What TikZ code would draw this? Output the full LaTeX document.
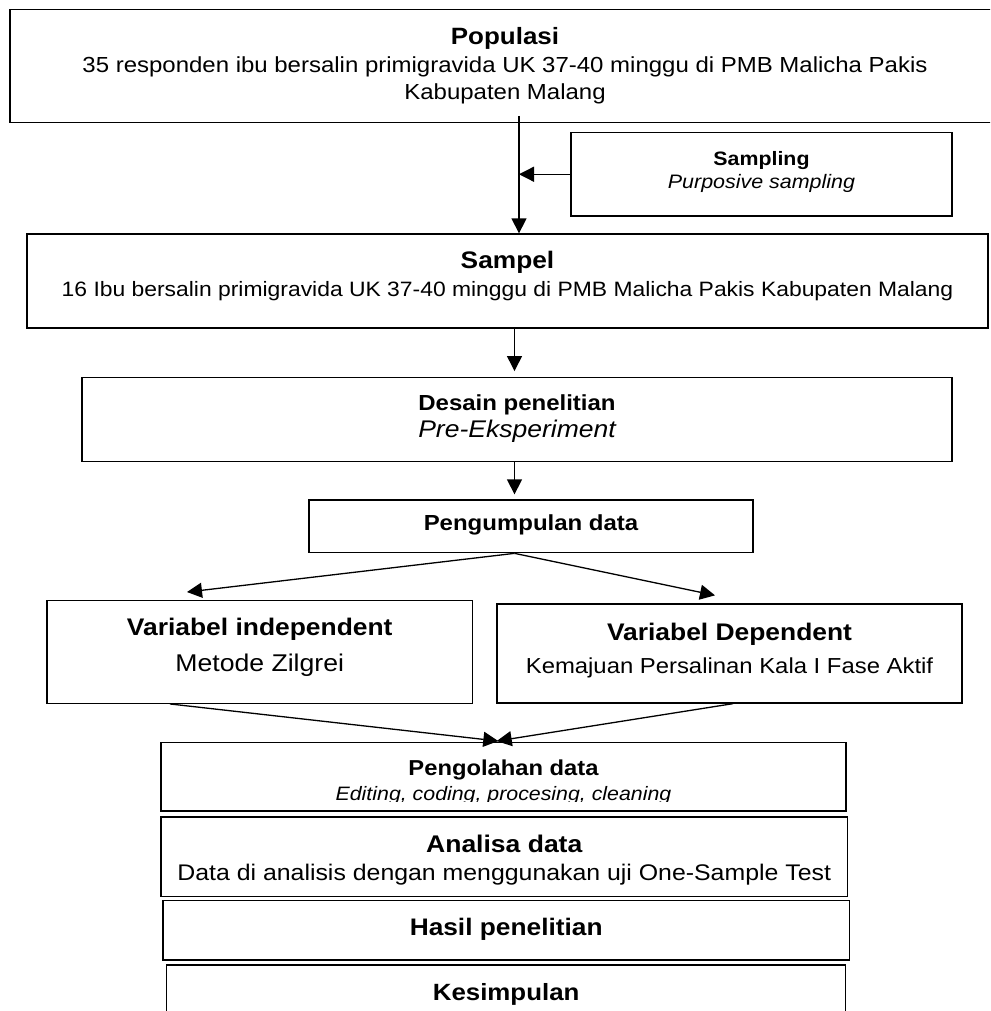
\documentclass[tikz,border=0pt]{standalone}
\usepackage{fontspec}
\setmainfont{Liberation Sans}[FakeStretch=1.1]
\usetikzlibrary{arrows.meta,calc}
\tikzset{
  box/.style={draw, line width=1.3pt, rectangle, inner sep=0pt},
  txt/.style={anchor=base, inner sep=0pt},
  arr/.style={line width=1.3pt, -{Triangle[length=15pt,width=15pt]}},
}
\newcommand{\fsz}[1]{\fontsize{#1}{#1}\selectfont}
\begin{document}
\begin{tikzpicture}[x=1pt,y=-1pt]
\useasboundingbox (0,0) rectangle (990,1011);
\clip (0,0) rectangle (990,1011);

% Populasi
\node[box, minimum width=990pt, minimum height=113.4pt] (pop) at (505,66) {};
\node[txt, font={\fsz{23.6}\bfseries}] (popT) at (505,44.5) {Populasi};
\node[txt, font={\fsz{21.8}}] (popA) at (505,72.7) {35 responden ibu bersalin primigravida UK 37-40 minggu di PMB Malicha Pakis};
\node[txt, font={\fsz{21.8}}] (popB) at (505,100) {Kabupaten Malang};

% Sampling
\node[box, minimum width=381pt, minimum height=83.5pt] (samp) at (761.5,174.25) {};
\node[txt, font={\fsz{19.4}\bfseries}] (sampT) at (761.5,165.7) {Sampling};
\node[txt, font={\fsz{19.5}\itshape}] (sampA) at (761.5,188.3) {Purposive sampling};

% Sampel
\node[box, minimum width=961pt, minimum height=94pt] (sampel) at (507.5,281) {};
\node[txt, font={\fsz{23.9}\bfseries}] (sampelT) at (507.5,268.5) {Sampel};
\node[txt, font={\fsz{20.8}}] (sampelA) at (507.5,296) {16 Ibu bersalin primigravida UK 37-40 minggu di PMB Malicha Pakis Kabupaten Malang};

% Desain
\node[box, minimum width=870pt, minimum height=84.4pt] (desain) at (517,419.5) {};
\node[txt, font={\fsz{21.8}\bfseries}] (desainT) at (517,410) {Desain penelitian};
\node[txt, font={\fsz{24.1}\itshape}] (desainA) at (517,437.5) {Pre-Eksperiment};

% Pengumpulan
\node[box, minimum width=444pt, minimum height=52.7pt] (peng) at (531,526.35) {};
\node[txt, font={\fsz{21.8}\bfseries}] (pengT) at (531,530) {Pengumpulan data};

% Variabel independent
\node[box, minimum width=425.5pt, minimum height=102.6pt] (vi) at (259.75,652) {};
\node[txt, font={\fsz{24}\bfseries}] (viT) at (259.75,635.7) {Variabel independent};
\node[txt, font={\fsz{24.2}}] (viA) at (259.75,671.5) {Metode Zilgrei};

% Variabel Dependent
\node[box, minimum width=465pt, minimum height=99pt] (vd) at (729.5,653.5) {};
\node[txt, font={\fsz{24}\bfseries}] (vdT) at (729.5,640) {Variabel Dependent};
\node[txt, font={\fsz{21.7}}] (vdA) at (729.5,673.3) {Kemajuan Persalinan Kala I Fase Aktif};

% Pengolahan
\node[box, minimum width=685pt, minimum height=68.3pt] (olah) at (503.5,776.85) {};
\node[txt, font={\fsz{21.6}\bfseries}] (olahT) at (503.5,775) {Pengolahan data};
\begin{scope}
  \clip (161,743) rectangle (846,801);
  \node[txt, font={\fsz{19.4}\itshape}] (olahA) at (503.5,800) {Editing, coding, procesing, cleaning};
\end{scope}

% Analisa
\node[box, minimum width=686.5pt, minimum height=79.7pt] (anal) at (504.25,856.85) {};
\node[txt, font={\fsz{24.1}\bfseries}] (analT) at (504.25,852.7) {Analisa data};
\node[txt, font={\fsz{22.6}}] (analA) at (504.25,880.7) {Data di analisis dengan menggunakan uji One-Sample Test};

% Hasil
\node[box, minimum width=686.4pt, minimum height=59.3pt] (hasil) at (506.2,930.35) {};
\node[txt, font={\fsz{23.9}\bfseries}] (hasilT) at (506.2,935) {Hasil penelitian};

% Kesimpulan
\node[box, minimum width=679.1pt, minimum height=75pt] (kes) at (506.15,1002.5) {};
\node[txt, font={\fsz{23.5}\bfseries}] (kesT) at (506.15,1000.7) {Kesimpulan};

% connectors
\coordinate (top1) at (519,116);
\coordinate (mid) at (514.5,0);
\draw[arr] (top1) -- (top1 |- sampel.north);
\draw[arr] (samp.west) -- (samp.west -| top1);
\draw[arr, shorten >=5.6pt] (mid |- sampel.south) -- (mid |- desain.north);
\draw[arr, shorten >=5pt] (mid |- desain.south) -- (mid |- peng.north);
\draw[arr] (mid |- peng.south) -- ([xshift=-72.75pt,yshift=8pt]vi.north);
\draw[arr] (mid |- peng.south) -- ([xshift=-14.5pt,yshift=8pt]vd.north);
\draw[arr] ([xshift=-89.75pt]vi.south) -- ([xshift=-5.2pt,yshift=1pt]olah.north);
\draw[arr] ([xshift=3.5pt]vd.south) -- ([xshift=-6.8pt,yshift=1pt]olah.north);
\end{tikzpicture}
\end{document}
